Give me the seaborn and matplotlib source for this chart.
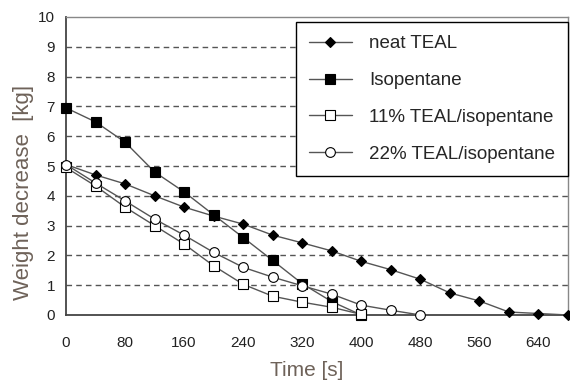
import matplotlib
matplotlib.use("Agg")
import matplotlib.pyplot as plt
import seaborn as sns
import pandas as pd

time_neat = [0, 40, 80, 120, 160, 200, 240, 280, 320, 360, 400, 440, 480, 520, 560, 600, 640, 680]
neat_teal = [5.05, 4.7, 4.4, 4.0, 3.62, 3.32, 3.05, 2.68, 2.42, 2.15, 1.8, 1.52, 1.2, 0.74, 0.47, 0.1, 0.05, 0.0]

time_iso = [0, 40, 80, 120, 160, 200, 240, 280, 320, 360, 400]
isopentane = [6.95, 6.48, 5.8, 4.8, 4.13, 3.36, 2.6, 1.83, 1.05, 0.45, 0.0]

time_11 = [0, 40, 80, 120, 160, 200, 240, 280, 320, 360, 400]
teal_11 = [4.95, 4.33, 3.62, 3.0, 2.38, 1.65, 1.03, 0.63, 0.43, 0.26, 0.02]

time_22 = [0, 40, 80, 120, 160, 200, 240, 280, 320, 360, 400, 440, 480]
teal_22 = [5.05, 4.43, 3.83, 3.22, 2.68, 2.1, 1.6, 1.27, 0.98, 0.7, 0.33, 0.16, 0.0]

labels = ["neat TEAL", "Isopentane", "11% TEAL/isopentane", "22% TEAL/isopentane"]
x_ticks_major = [0, 80, 160, 240, 320, 400, 480, 560, 640]
y_ticks = list(range(0, 11))

sns.set_theme(style="white")
plt.rcParams['font.family'] = ['Liberation Sans', 'DejaVu Sans']

fig = plt.figure(figsize=(5.7, 3.83), dpi=100)
ax = fig.add_axes([66/570, 1 - 315/383, (568-66)/570, (315-17)/383])

series = [
    (time_neat, neat_teal, "D", 5, "black"),
    (time_iso, isopentane, "s", 7, "black"),
    (time_11, teal_11, "s", 7, "white"),
    (time_22, teal_22, "o", 7, "white"),
]
for (t, v, m, ms, fc), lab in zip(series, labels):
    df = pd.DataFrame({"t": t, "v": v})
    sns.lineplot(data=df, x="t", y="v", ax=ax, color="#555555", linewidth=1.0,
                 marker=m, markersize=ms, markerfacecolor=fc, markeredgecolor="black",
                 markeredgewidth=0.8, label=lab, zorder=3, clip_on=False)

ax.set_xlim(0, 680)
ax.set_ylim(0, 10)
ax.set_xticks(x_ticks_major)
ax.set_xticks(list(range(0, 681, 40)), minor=True)
ax.set_yticks(y_ticks)
ax.tick_params(axis="both", which="both", direction="inout", color="#444444",
               labelcolor="#222222", labelsize=11)
ax.tick_params(axis="x", which="both", length=8, width=1, pad=11)
ax.tick_params(axis="y", which="both", length=8, width=1, pad=4)
for y in range(1, 10):
    ax.axhline(y, color="#555555", linestyle=(0, (4, 3)), linewidth=1.0, zorder=1)

for s in ["left", "bottom"]:
    ax.spines[s].set_color("#444444")
    ax.spines[s].set_linewidth(1.3)
for s in ["top", "right"]:
    ax.spines[s].set_color("#888888")
    ax.spines[s].set_linewidth(1.0)

ax.set_xlabel("Time [s]", fontsize=15, color="#6e6259", labelpad=1)
ax.xaxis.set_label_coords(0.48, -0.155)
ax.set_ylabel("Weight decrease  [kg]", fontsize=16, color="#6e6259")
ax.yaxis.set_label_coords(-0.064, 0.41)

leg = ax.legend(loc="upper right", bbox_to_anchor=(1.0, 0.983), borderaxespad=0,
                fontsize=13.5, frameon=True, fancybox=False, edgecolor="black",
                framealpha=1, handlelength=2.3, borderpad=0.7, labelspacing=1.05,
                handletextpad=0.9)
leg.get_frame().set_linewidth(1.0)

fig.savefig("out.png", dpi=100)
